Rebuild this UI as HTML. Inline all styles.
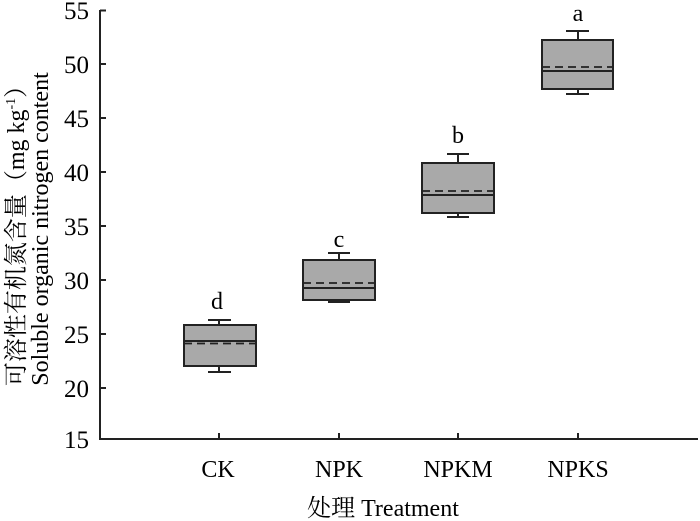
<!DOCTYPE html>
<html><head><meta charset="utf-8"><style>
html,body{margin:0;padding:0;background:#fff;}
svg{display:block;}
text{font-family:"Liberation Serif","Noto Serif CJK SC",serif;fill:#000;}
</style></head><body>
<svg width="700" height="521" viewBox="0 0 700 521" xmlns="http://www.w3.org/2000/svg">
<g stroke="#222" stroke-width="2" fill="none">
<line x1="100" y1="10" x2="100" y2="440"/>
<line x1="99" y1="439" x2="698" y2="439"/>
<line x1="100" y1="10.5" x2="106" y2="10.5"/>
<line x1="100" y1="64" x2="106" y2="64"/>
<line x1="100" y1="118" x2="106" y2="118"/>
<line x1="100" y1="172" x2="106" y2="172"/>
<line x1="100" y1="226" x2="106" y2="226"/>
<line x1="100" y1="280" x2="106" y2="280"/>
<line x1="100" y1="334" x2="106" y2="334"/>
<line x1="100" y1="388" x2="106" y2="388"/>
<line x1="219" y1="433" x2="219" y2="439"/>
<line x1="339" y1="433" x2="339" y2="439"/>
<line x1="458" y1="433" x2="458" y2="439"/>
<line x1="578" y1="433" x2="578" y2="439"/>
</g>
<g font-size="25" text-anchor="end">
<text x="89" y="19">55</text>
<text x="89" y="73">50</text>
<text x="89" y="127">45</text>
<text x="89" y="181">40</text>
<text x="89" y="235">35</text>
<text x="89" y="289">30</text>
<text x="89" y="343">25</text>
<text x="89" y="397">20</text>
<text x="89" y="448">15</text>
</g>
<g font-size="24" text-anchor="middle">
<text x="218" y="477">CK</text>
<text x="339" y="477">NPK</text>
<text x="458" y="477">NPKM</text>
<text x="578" y="477">NPKS</text>
<text x="383" y="516">处理 Treatment</text>
<text x="217" y="309">d</text>
<text x="339" y="247">c</text>
<text x="458" y="143">b</text>
<text x="578" y="21">a</text>
</g>
<text font-size="24" text-anchor="middle" transform="translate(24,230) rotate(-90)">可溶性有机氮含量（mg kg<tspan font-size="14" dy="-9">-1</tspan><tspan dy="9">）</tspan></text>
<text font-size="24" text-anchor="middle" transform="translate(48,229) rotate(-90)">Soluble organic nitrogen content</text>
<g stroke="#222" stroke-width="2">
<line x1="219" y1="320" x2="219" y2="372"/><line x1="208" y1="320" x2="231" y2="320"/><line x1="208" y1="372" x2="231" y2="372"/>
<rect x="184" y="325" width="72" height="41" fill="#a9a9a9"/>
<line x1="184" y1="341" x2="256" y2="341"/>
<line x1="184" y1="343.5" x2="256" y2="343.5" stroke-dasharray="8,5" stroke-width="1.8"/>
<line x1="339" y1="253" x2="339" y2="302"/><line x1="328" y1="253" x2="350" y2="253"/><line x1="328" y1="302" x2="350" y2="302"/>
<rect x="303" y="260" width="72" height="40" fill="#a9a9a9"/>
<line x1="303" y1="288" x2="375" y2="288"/>
<line x1="303" y1="283" x2="375" y2="283" stroke-dasharray="8,5" stroke-width="1.8"/>
<line x1="458" y1="154" x2="458" y2="217"/><line x1="447" y1="154" x2="469" y2="154"/><line x1="447" y1="217" x2="469" y2="217"/>
<rect x="422" y="163" width="72" height="50" fill="#a9a9a9"/>
<line x1="422" y1="195" x2="494" y2="195"/>
<line x1="422" y1="191" x2="494" y2="191" stroke-dasharray="8,5" stroke-width="1.8"/>
<line x1="578" y1="31" x2="578" y2="94"/><line x1="566" y1="31" x2="589" y2="31"/><line x1="566" y1="94" x2="589" y2="94"/>
<rect x="542" y="40" width="71" height="49" fill="#a9a9a9"/>
<line x1="542" y1="71" x2="613" y2="71"/>
<line x1="542" y1="67" x2="613" y2="67" stroke-dasharray="8,5" stroke-width="1.8"/>
</g>
</svg>
</body></html>
